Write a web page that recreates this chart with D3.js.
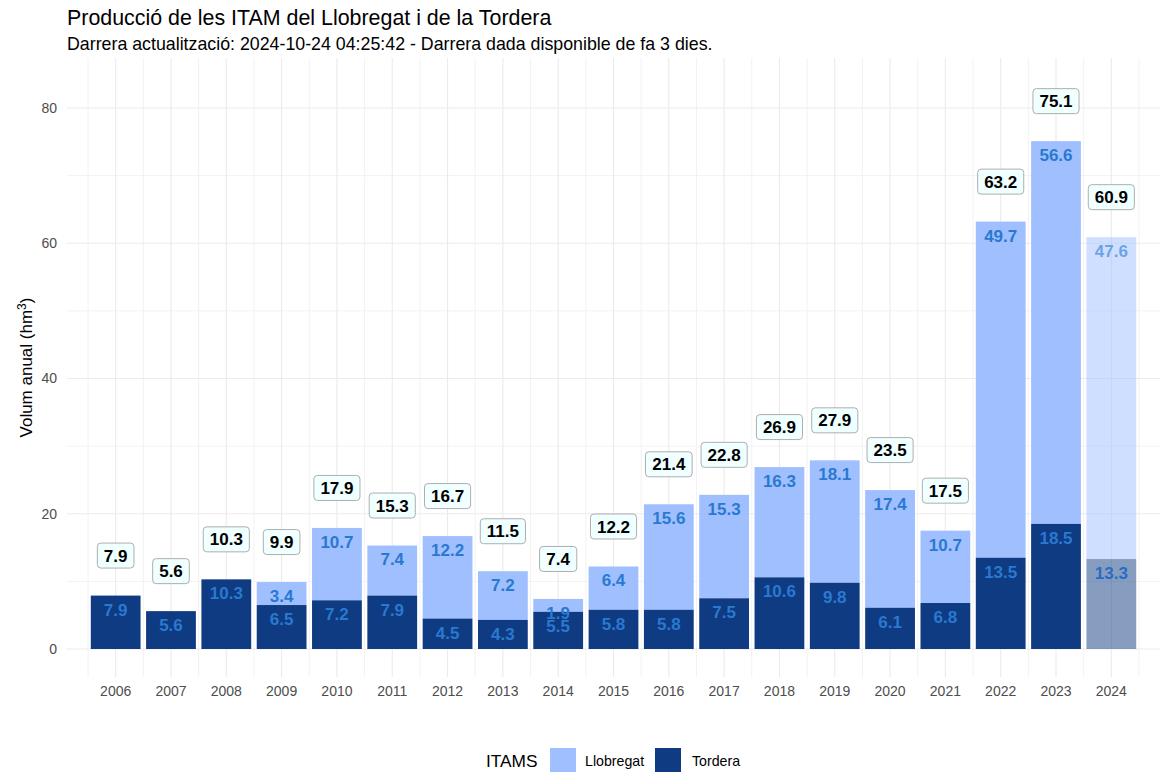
<!DOCTYPE html>
<html>
<head>
<meta charset="utf-8">
<script src="https://cdn.jsdelivr.net/npm/d3@7"></script>
<style>
  body { margin: 0; background: #fff; }
  svg { font-family: "Liberation Sans", Arial, sans-serif; display: block; }
</style>
</head>
<body>
<script>
// Data
const years = ['2006', '2007', '2008', '2009', '2010', '2011', '2012', '2013', '2014', '2015',
  '2016', '2017', '2018', '2019', '2020', '2021', '2022', '2023', '2024'];
const tordera = [7.9, 5.6, 10.3, 6.5, 7.2, 7.9, 4.5, 4.3, 5.5, 5.8, 5.8, 7.5, 10.6, 9.8, 6.1, 6.8, 13.5, 18.5, 13.3];
const llobregat = [0, 0, 0, 3.4, 10.7, 7.4, 12.2, 7.2, 1.9, 6.4, 15.6, 15.3, 16.3, 18.1, 17.4, 10.7, 49.7, 56.6, 47.6];
const totals = [7.9, 5.6, 10.3, 9.9, 17.9, 15.3, 16.7, 11.5, 7.4, 12.2, 21.4, 22.8, 26.9, 27.9, 23.5, 17.5, 63.2, 75.1, 60.9];
const yTicks = [0, 20, 40, 60, 80];
const yMinor = [10, 30, 50, 70];
const partialYear = '2024';

const title = 'Producció de les ITAM del Llobregat i de la Tordera';
const subtitle = 'Darrera actualització: 2024-10-24 04:25:42 - Darrera dada disponible de fa 3 dies.';

const colLlob = '#9fbfff';
const colTord = '#0f3b82';
const colLabel = '#2a79d0';

const width = 1171;
const height = 772;
const panel = { left: 67, right: 1160, top: 58, bottom: 677 };

const svg = d3.select('body').append('svg').attr('width', width).attr('height', height);

// Scales
const x = d3.scaleBand().domain(years).range([panel.left, panel.right]).paddingInner(0.1).paddingOuter(0.43);
const y = d3.scaleLinear().domain([0, 80]).range([649, 108]);

// Grid
const grid = svg.append('g');
const halfStep = x.step() / 2;
const xMinor = years.map((yr) => x(yr) + x.bandwidth() / 2 - halfStep).concat([x(partialYear) + x.bandwidth() / 2 + halfStep]);

grid.selectAll('.ymin').data(yMinor).enter().append('line')
  .attr('x1', panel.left).attr('x2', panel.right)
  .attr('y1', (d) => y(d)).attr('y2', (d) => y(d))
  .attr('stroke', '#f2f2f2').attr('stroke-width', 1);
grid.selectAll('.xmin').data(xMinor).enter().append('line')
  .attr('x1', (d) => d).attr('x2', (d) => d)
  .attr('y1', panel.top).attr('y2', panel.bottom)
  .attr('stroke', '#f2f2f2').attr('stroke-width', 1);
grid.selectAll('.ymaj').data(yTicks).enter().append('line')
  .attr('x1', panel.left).attr('x2', panel.right)
  .attr('y1', (d) => y(d)).attr('y2', (d) => y(d))
  .attr('stroke', '#ebebeb').attr('stroke-width', 1.1);
grid.selectAll('.xmaj').data(years).enter().append('line')
  .attr('x1', (d) => x(d) + x.bandwidth() / 2).attr('x2', (d) => x(d) + x.bandwidth() / 2)
  .attr('y1', panel.top).attr('y2', panel.bottom)
  .attr('stroke', '#ebebeb').attr('stroke-width', 1.1);

// Axes
const yAxis = svg.append('g')
  .attr('transform', `translate(${panel.left - 4},0)`)
  .call(d3.axisLeft(y).tickValues(yTicks).tickSize(0).tickPadding(6));
yAxis.select('.domain').remove();
yAxis.selectAll('text').attr('font-size', 14).attr('fill', '#4d4d4d')
  .attr('font-family', '"Liberation Sans", Arial, sans-serif');

const xAxis = svg.append('g')
  .attr('transform', `translate(0,${panel.bottom})`)
  .call(d3.axisBottom(x).tickSize(0).tickPadding(9));
xAxis.select('.domain').remove();
xAxis.selectAll('text').attr('font-size', 14).attr('fill', '#4d4d4d')
  .attr('font-family', '"Liberation Sans", Arial, sans-serif');

// Stacked bars
const rows = years.map((yr, i) => ({ year: yr, tord: tordera[i], llob: llobregat[i], total: totals[i] }));
const op = (d) => (d.year === partialYear ? 0.5 : 1);

const bars = svg.append('g');
bars.selectAll('.llob').data(rows.filter((d) => d.llob > 0)).enter().append('rect')
  .attr('x', (d) => x(d.year)).attr('width', x.bandwidth())
  .attr('y', (d) => y(d.tord + d.llob)).attr('height', (d) => y(d.tord) - y(d.tord + d.llob))
  .attr('fill', colLlob).attr('fill-opacity', op);
bars.selectAll('.tord').data(rows).enter().append('rect')
  .attr('x', (d) => x(d.year)).attr('width', x.bandwidth())
  .attr('y', (d) => y(d.tord)).attr('height', (d) => y(0) - y(d.tord))
  .attr('fill', colTord).attr('fill-opacity', op);

// Segment labels
const segLabels = svg.append('g')
  .attr('font-size', 17).attr('font-weight', 'bold').attr('text-anchor', 'middle')
  .attr('fill', colLabel);
segLabels.selectAll('.lt').data(rows).enter().append('text')
  .attr('x', (d) => x(d.year) + x.bandwidth() / 2)
  .attr('y', (d) => y(d.tord) + 14)
  .attr('dy', '0.35em')
  .attr('fill', (d) => (d.year === partialYear ? '#2a6cc4' : colLabel))
  .text((d) => d.tord.toFixed(1));
segLabels.selectAll('.ll').data(rows.filter((d) => d.llob > 0)).enter().append('text')
  .attr('x', (d) => x(d.year) + x.bandwidth() / 2)
  .attr('y', (d) => y(d.tord + d.llob) + 14)
  .attr('dy', '0.35em')
  .attr('fill-opacity', (d) => (d.year === partialYear ? 0.6 : 1))
  .text((d) => d.llob.toFixed(1));

// Total labels in boxes
const tot = svg.append('g').selectAll('g').data(rows).enter().append('g')
  .attr('transform', (d) => `translate(${x(d.year) + x.bandwidth() / 2},${y(d.total) - 40})`);
tot.append('text')
  .attr('text-anchor', 'middle').attr('dy', '0.36em')
  .attr('font-size', 17).attr('font-weight', 'bold').attr('fill', '#000')
  .text((d) => d.total.toFixed(1));
tot.each(function () {
  const g = d3.select(this);
  const w = g.select('text').node().getBBox().width + 13;
  g.insert('rect', 'text')
    .attr('x', -w / 2).attr('y', -12.5).attr('width', w).attr('height', 25)
    .attr('rx', 3.5).attr('fill', '#f0ffff').attr('stroke', '#9a9a9a').attr('stroke-width', 0.8);
});

// Y axis title
svg.append('text')
  .attr('transform', `translate(32,${(panel.top + panel.bottom) / 2}) rotate(-90)`)
  .attr('text-anchor', 'middle').attr('font-size', 17).attr('fill', '#000')
  .html('Volum anual (hm<tspan dy="-6" font-size="12">3</tspan><tspan dy="6">)</tspan>');

// Title & subtitle
svg.append('text').attr('x', 67).attr('y', 25).attr('font-size', 21.4).attr('fill', '#000').text(title);
svg.append('text').attr('x', 67).attr('y', 50).attr('font-size', 17.8).attr('fill', '#000').text(subtitle);

// Legend
const legend = svg.append('g');
legend.append('text').attr('x', 486).attr('y', 767).attr('font-size', 17.3).attr('fill', '#000').text('ITAMS');
const keys = [
  { name: 'Llobregat', color: colLlob, kx: 550, tx: 585 },
  { name: 'Tordera', color: colTord, kx: 655, tx: 692 },
];
legend.selectAll('rect').data(keys).enter().append('rect')
  .attr('x', (d) => d.kx).attr('y', 748).attr('width', 26).attr('height', 26).attr('fill', (d) => d.color);
legend.selectAll('.lt').data(keys).enter().append('text')
  .attr('x', (d) => d.tx).attr('y', 766).attr('font-size', 14.2).attr('fill', '#000').text((d) => d.name);
</script>
</body>
</html>
